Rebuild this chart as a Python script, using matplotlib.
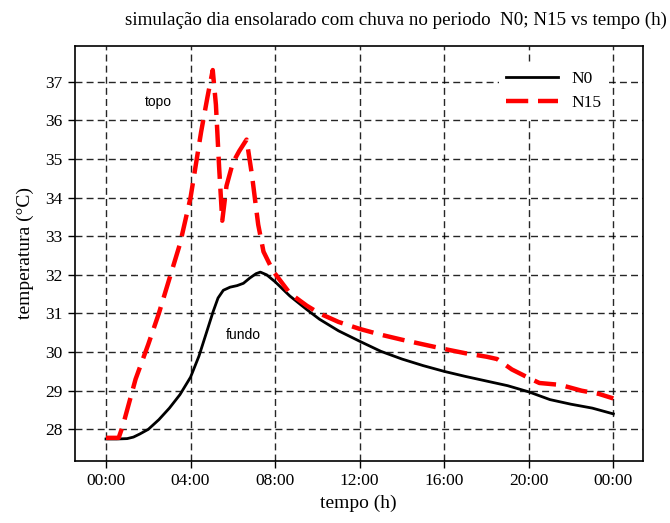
import matplotlib
matplotlib.use("Agg")
import matplotlib.pyplot as plt

# --- data (hours, degC) ---
t_n0 = [0, 0.5, 1.0, 1.3, 1.6, 2.0, 2.5, 3.0, 3.5, 4.0, 4.4, 4.75, 5.07, 5.3, 5.55,
        5.87, 6.2, 6.5, 6.81, 7.1, 7.3, 7.6, 8.0, 8.7, 9.5, 10.1, 11, 12, 13, 14,
        15, 16, 17, 18, 19, 20, 21, 22, 23, 24]
v_n0 = [27.75, 27.75, 27.76, 27.8, 27.88, 28.0, 28.25, 28.55, 28.9, 29.35, 29.9,
        30.5, 31.05, 31.4, 31.6, 31.68, 31.72, 31.78, 31.92, 32.03, 32.07, 32.0,
        31.82, 31.45, 31.1, 30.85, 30.55, 30.28, 30.02, 29.82, 29.65, 29.5, 29.37,
        29.25, 29.13, 28.97, 28.77, 28.65, 28.55, 28.40]

t_n15 = [0, 0.6, 0.8, 1.0, 1.4, 2.0, 2.5, 3.0, 3.5, 4.0, 4.5, 4.8, 5.05, 5.2, 5.35,
         5.5, 5.7, 6.0, 6.3, 6.65, 6.9, 7.2, 7.45, 7.9, 8.7, 9.5, 10.1, 11, 12,
         13, 14, 15, 16, 17, 18, 18.5, 19.2, 20, 20.5, 21.5, 22.5, 23.3, 24]
v_n15 = [27.78, 27.78, 28.1, 28.5, 29.3, 30.2, 31.0, 31.9, 32.8, 34.0, 35.7, 36.6,
         37.3, 36.4, 34.8, 33.4, 34.3, 34.9, 35.2, 35.5, 34.6, 33.3, 32.6, 32.1,
         31.52, 31.2, 31.0, 30.78, 30.6, 30.45, 30.32, 30.2, 30.08, 29.97, 29.88,
         29.82, 29.55, 29.33, 29.2, 29.15, 29.0, 28.92, 28.8]

x_ticks = [0, 4, 8, 12, 16, 20, 24]
x_labels = ["00:00", "04:00", "08:00", "12:00", "16:00", "20:00", "00:00"]
y_ticks = [28, 29, 30, 31, 32, 33, 34, 35, 36, 37]

serif = ["Liberation Serif", "DejaVu Serif"]
sans = ["Liberation Sans", "DejaVu Sans"]

fig = plt.figure(figsize=(6.7, 5.23), dpi=100)
ax = fig.add_axes([0.1115, 0.1185, 0.8478, 0.7941])

ax.plot(t_n0, v_n0, color="black", lw=2, label="N0", zorder=3)
ax.plot(t_n15, v_n15, color="red", lw=3.2, dashes=(5, 2.2), label="N15", zorder=4)

ax.set_xlim(-1.48, 25.39)
ax.set_ylim(27.18, 37.93)
ax.set_xticks(x_ticks)
ax.set_xticklabels(x_labels)
ax.set_yticks(y_ticks)
ax.grid(True, color="black", linestyle=(0, (5, 3)), lw=1, alpha=0.85)
ax.tick_params(direction="out", length=5, width=1, labelsize=12.5)
for lab in ax.get_xticklabels() + ax.get_yticklabels():
    lab.set_family(serif)
for s in ax.spines.values():
    s.set_linewidth(1.2)

ax.set_xlabel("tempo (h)", family=serif, fontsize=14, labelpad=4)
ax.set_ylabel("temperatura (°C)", family=serif, fontsize=14, labelpad=8)
ax.set_title("simulação dia ensolarado com chuva no periodo  N0; N15 vs tempo (h)",
             family=serif, fontsize=13.7, pad=15, x=0.565)

ax.text(2.46, 36.48, "topo", family=sans, fontsize=10, ha="center", va="center")
ax.text(6.48, 30.45, "fundo", family=sans, fontsize=10, ha="center", va="center")

leg = ax.legend(loc="upper right", bbox_to_anchor=(0.94, 0.955), frameon=True,
                fancybox=False, edgecolor="none", facecolor="white", framealpha=1,
                prop={"family": serif, "size": 12.5}, handlelength=3.0,
                borderaxespad=0, labelspacing=0.45)

fig.savefig("out.png", dpi=100)
